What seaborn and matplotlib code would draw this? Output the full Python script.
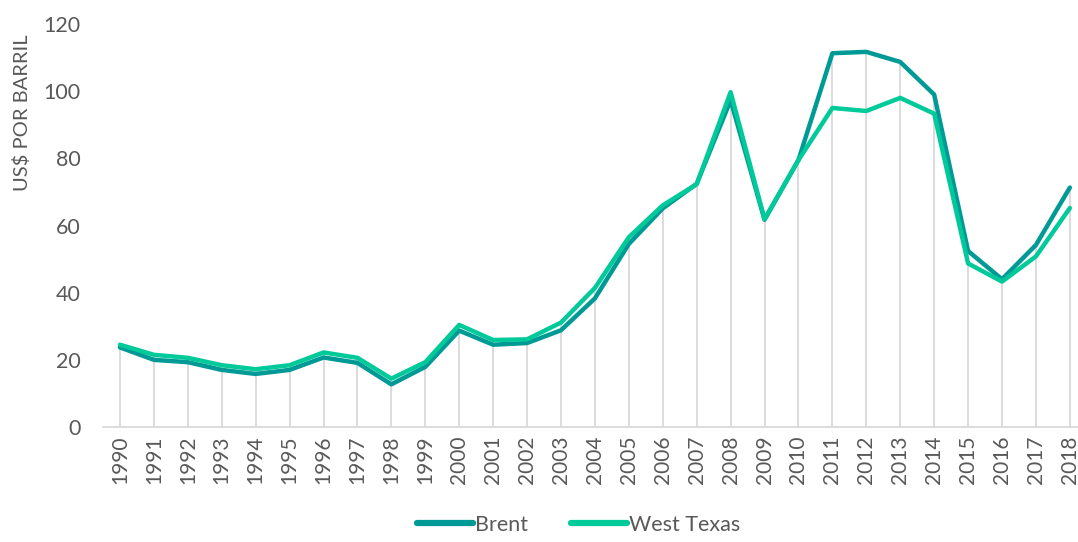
import numpy as np
import pandas as pd
import matplotlib
matplotlib.use("Agg")
import matplotlib.pyplot as plt
import seaborn as sns

# ── Data ─────────────────────────────────────────────────────────────────────
years = [str(y) for y in range(1990, 2019)]
brent = [23.7, 20.0, 19.3, 17.0, 15.8, 17.0, 20.7, 19.1, 12.7, 17.9,
         28.7, 24.5, 25.0, 28.8, 38.3, 54.5, 65.1, 72.4, 97.3, 61.7,
         79.5, 111.3, 111.7, 108.7, 99.0, 52.4, 44.0, 54.2, 71.3]
wti = [24.5, 21.5, 20.6, 18.4, 17.2, 18.4, 22.2, 20.6, 14.4, 19.3,
       30.4, 25.9, 26.1, 31.1, 41.4, 56.5, 66.0, 72.3, 99.7, 61.9,
       79.5, 95.0, 94.1, 98.0, 93.3, 48.7, 43.3, 50.8, 65.2]
series_names = ["Brent", "West Texas"]
colors = ["#009A96", "#00C99A"]
y_ticks = [0, 20, 40, 60, 80, 100, 120]

TEXT = "#595959"
GRID = "#D9D9D9"

df = pd.DataFrame({
    "year": years * 2,
    "price": brent + wti,
    "serie": [series_names[0]] * len(years) + [series_names[1]] * len(years),
})

# ── Plot ─────────────────────────────────────────────────────────────────────
sns.set_style("white")
plt.rcParams["font.family"] = ["Lato", "DejaVu Sans"]

fig = plt.figure(figsize=(10.78, 5.42), dpi=100)
ax = fig.add_axes([103 / 1078, 1 - 427 / 542, (1078 - 103) / 1078, (427 - 24) / 542])

x_idx = np.arange(len(years))
top = np.maximum(brent, wti)
ax.vlines(x_idx, 0, top, color=GRID, linewidth=1.3, zorder=1)

sns.lineplot(data=df, x="year", y="price", hue="serie", palette=colors,
             linewidth=3.2, sort=False, ax=ax, zorder=3)

ax.set_xlim(-0.5, len(years) - 0.76)
ax.set_ylim(0, 120)
ax.set_yticks(y_ticks)
ax.set_xticks(x_idx)
ax.set_xticklabels(years, rotation=90)
ax.tick_params(axis="y", labelsize=15.5, colors=TEXT, length=0, pad=16)
ax.tick_params(axis="x", labelsize=15, colors=TEXT, length=0, pad=6)

for side in ["top", "right", "left"]:
    ax.spines[side].set_visible(False)
ax.spines["bottom"].set_color(GRID)
ax.spines["bottom"].set_linewidth(1.3)
ax.spines["bottom"].set_zorder(2)

ax.set_xlabel("")
ax.set_ylabel("US$ POR BARRIL", fontsize=14.5, color=TEXT, labelpad=10)
ax.yaxis.set_label_coords(-72 / 975, 0.78)

handles, labels = ax.get_legend_handles_labels()
leg = ax.legend(handles, labels, loc="lower center", bbox_to_anchor=(0.5 - 12 / 975, -0.30),
                ncol=2, frameon=False, fontsize=15.5, handlelength=2.6,
                handletextpad=0.1, columnspacing=2.0, borderaxespad=0.2)
for t in leg.get_texts():
    t.set_color(TEXT)
for h in leg.get_lines():
    h.set_linewidth(4.5)
    h.set_solid_capstyle("round")

fig.savefig("out.png", dpi=100)
